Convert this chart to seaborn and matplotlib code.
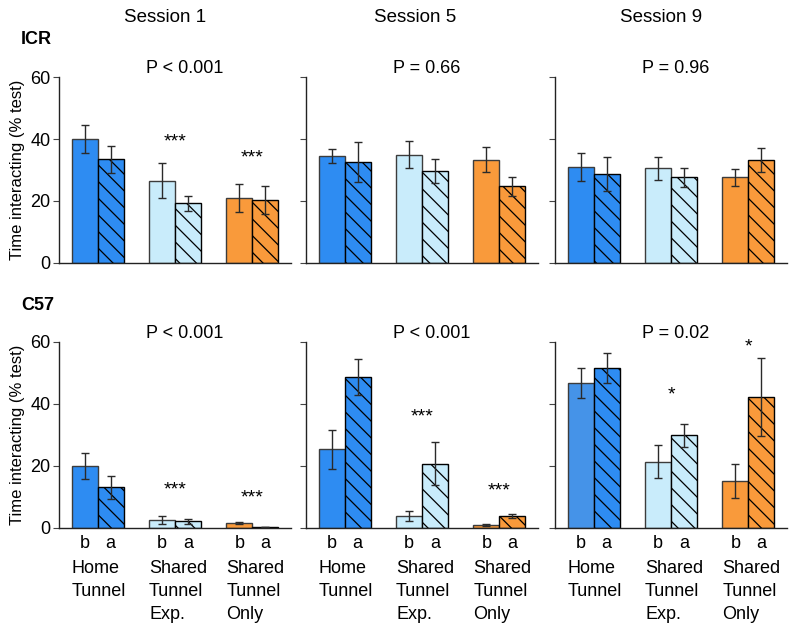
import numpy as np
import pandas as pd
import matplotlib
matplotlib.use("Agg")
import matplotlib.pyplot as plt
import seaborn as sns

# --- Daten ---
groups = ["Home\nTunnel", "Shared\nTunnel\nExp.", "Shared\nTunnel\nOnly"]
phases = ["b", "a"]
sessions = ["Session 1", "Session 5", "Session 9"]
strains = ["ICR", "C57"]

# Mittelwerte pro Session (Zeilen) und Gruppe (Spalten)
icr_before = [[40.0, 26.6, 20.9], [34.4, 34.9, 33.3], [31.1, 30.5, 27.6]]
icr_after = [[33.4, 19.2, 20.4], [32.5, 29.6, 24.7], [28.8, 27.7, 33.1]]
icr_before_err = [[4.5, 5.6, 4.6], [2.3, 4.3, 4.1], [4.5, 3.6, 2.8]]
icr_after_err = [[4.3, 2.4, 4.5], [6.4, 3.9, 3.2], [5.5, 3.1, 3.9]]

c57_before = [[20.0, 2.6, 1.5], [25.4, 4.0, 0.9], [46.7, 21.4, 15.3]]
c57_after = [[13.1, 2.2, 0.3], [48.7, 20.8, 3.8], [51.6, 29.9, 42.3]]
c57_before_err = [[4.1, 1.2, 0.3], [6.3, 1.6, 0.4], [4.8, 5.4, 5.5]]
c57_after_err = [[3.6, 0.8, 0.1], [5.7, 6.8, 0.7], [4.9, 3.8, 12.5]]

icr_p = ["P < 0.001", "P = 0.66", "P = 0.96"]
c57_p = ["P < 0.001", "P < 0.001", "P = 0.02"]

icr_stars = [["", "***", "***"], ["", "", ""], ["", "", ""]]
icr_star_y = [[0, 39.0, 34.0], [0, 0, 0], [0, 0, 0]]
c57_stars = [["", "***", "***"], ["", "***", "***"], ["", "*", "*"]]
c57_star_y = [[0, 12.4, 9.8], [0, 35.9, 11.9], [0, 42.9, 58.3]]

# --- Stil ---
group_colors = ["#2e8cf2", "#c9ecfb", "#f99a3b"]
sns.set_style("ticks")
plt.rcParams["font.family"] = ["Liberation Sans", "DejaVu Sans"]
plt.rcParams["hatch.linewidth"] = 0.9
for key in ["text.color", "axes.labelcolor", "xtick.color", "ytick.color"]:
    plt.rcParams[key] = "black"

fig = plt.figure(figsize=(7.92, 6.25), dpi=100)
W, H = 792, 625
col_left = [59, 306, 555]
ax_w = 232
row_bottom = [362, 97]
ax_h = 186

strain_data = {
    "ICR": (icr_before, icr_after, icr_before_err, icr_after_err, icr_p, icr_stars, icr_star_y),
    "C57": (c57_before, c57_after, c57_before_err, c57_after_err, c57_p, c57_stars, c57_star_y),
}

bw = 0.67 / 2
for r, strain in enumerate(strains):
    before, after, before_err, after_err, pvals, stars, star_y = strain_data[strain]
    for c, session in enumerate(sessions):
        ax = fig.add_axes([col_left[c] / W, row_bottom[r] / H, ax_w / W, ax_h / H])
        df = pd.DataFrame({
            "group": groups * 2,
            "phase": ["b"] * 3 + ["a"] * 3,
            "value": before[c] + after[c],
        })
        sns.barplot(data=df, x="group", y="value", hue="phase", order=groups,
                    hue_order=phases, width=0.67, errorbar=None, legend=False,
                    palette=["#888888", "#888888"], ax=ax)
        errs = [before_err[c], after_err[c]]
        bar_conts = list(ax.containers[:2])
        for h, cont in enumerate(bar_conts):
            for g, patch in enumerate(cont):
                col = group_colors[g]
                if strain == "C57" and c == 2 and g == 0 and h == 0:
                    col = "#4593e8"
                patch.set_facecolor(col)
                patch.set_linewidth(1.0)
                if h == 0:
                    patch.set_edgecolor("#3c3c3c")
                else:
                    patch.set_edgecolor("black")
                    patch.set_hatch("\\\\")
                xc = patch.get_x() + patch.get_width() / 2
                ax.errorbar(xc, patch.get_height(), yerr=errs[h][g], fmt="none",
                            ecolor="#2a2a2a", elinewidth=1.0, capsize=3.2,
                            capthick=1.0, zorder=5)
        for g in range(3):
            if stars[c][g]:
                ax.text(g, star_y[c][g], stars[c][g], ha="center", va="center",
                        fontsize=14, clip_on=False)
        ax.text(0.63, 62.9, pvals[c], ha="left", va="center", fontsize=13,
                clip_on=False)

        ax.set_ylim(0, 60)
        ax.set_xlim(-0.5, 2.5)
        ax.set_yticks([0, 20, 40, 60])
        ax.set_xlabel("")
        ax.set_ylabel("")
        sns.despine(ax=ax)
        for sp in ["left", "bottom"]:
            ax.spines[sp].set_linewidth(1.0)
            ax.spines[sp].set_color("#222222")
        ax.tick_params(axis="y", direction="out", length=4, width=0.8,
                       color="#444444", labelsize=13, pad=2)
        if c == 0:
            ax.set_ylabel("Time interacting (% test)", fontsize=12, labelpad=4)
        else:
            ax.set_yticklabels([])
        xt = [g + d for g in range(3) for d in (-bw / 2, bw / 2)]
        ax.set_xticks(xt)
        if r == 1:
            ax.set_xticklabels(phases * 3, fontsize=13)
            ax.tick_params(axis="x", length=0, pad=5)
            for g, name in enumerate(groups):
                ax.annotate(name, xy=(g - bw, 0), xycoords=("data", "axes fraction"),
                            xytext=(0, -23), textcoords="offset points",
                            ha="left", va="top", fontsize=13, linespacing=1.48)
        else:
            ax.set_xticklabels([])
            ax.tick_params(axis="x", length=0)

# Spaltentitel und Stammnamen
for c, session in enumerate(sessions):
    fig.text([165, 415, 661][c] / W, 1 - 17 / H, session, ha="center", va="center",
             fontsize=13.5)
fig.text(21 / W, 1 - 40 / H, "ICR", ha="left", va="center", fontsize=13,
         fontweight="bold")
fig.text(21 / W, 1 - 305 / H, "C57", ha="left", va="center", fontsize=13,
         fontweight="bold")

fig.savefig("out.png", dpi=100)
